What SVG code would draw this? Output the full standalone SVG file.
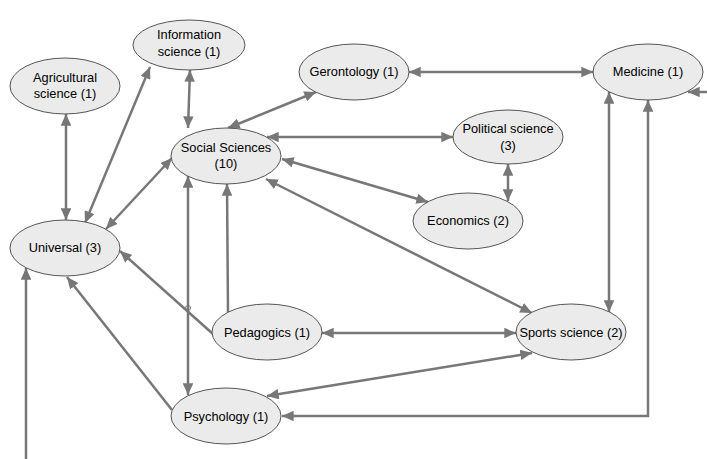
<svg xmlns="http://www.w3.org/2000/svg" width="707" height="459" viewBox="0 0 707 459">
<style>
.n ellipse{fill:#ebebeb;stroke:#555;stroke-width:1}
.n text{font-family:"Liberation Sans",Arial,sans-serif;font-size:12.8px;fill:#000;text-anchor:middle}
.c line,.c polyline{stroke:#777;stroke-width:2.5;fill:none}
.b{marker-start:url(#a);marker-end:url(#a)}
.e{marker-end:url(#a)}
</style>
<defs>
<marker id="a" viewBox="0 0 10 9" refX="10" refY="4.5" markerWidth="12" markerHeight="10.5" markerUnits="userSpaceOnUse" orient="auto-start-reverse">
<path d="M0,0 L10,4.5 L0,9 z" fill="#777"/>
</marker>
</defs>
<rect width="707" height="459" fill="#fff"/>
<g id="connectors" class="c">
<line class="b" x1="66" y1="114" x2="66" y2="220"/>
<line class="b" x1="190" y1="70" x2="188" y2="128"/>
<line class="b" x1="85" y1="223" x2="150" y2="67"/>
<line class="b" x1="106" y1="229" x2="172" y2="158"/>
<line class="b" x1="228" y1="128" x2="316" y2="92"/>
<line class="b" x1="409" y1="72" x2="593" y2="72"/>
<line class="b" x1="267" y1="137" x2="453" y2="137"/>
<line class="b" x1="282" y1="159" x2="428" y2="202"/>
<line class="b" x1="266" y1="179" x2="532" y2="313"/>
<line class="b" x1="508" y1="164" x2="508" y2="201"/>
<line class="b" x1="609" y1="92" x2="609" y2="312"/>
<polyline class="b" points="282,416 648,416 648,100"/>
<line class="b" x1="322" y1="333" x2="516" y2="333"/>
<line class="e" x1="228" y1="312" x2="227" y2="184"/>
<line class="e" x1="213" y1="334" x2="120" y2="251"/>
<line class="b" x1="188" y1="176" x2="188" y2="395"/>
<line class="e" x1="172" y1="410" x2="67" y2="277"/>
<line class="b" x1="267" y1="396" x2="532" y2="353"/>
<line class="e" x1="26" y1="459" x2="26" y2="268"/>
<line class="e" x1="707" y1="92" x2="688" y2="92"/>
<circle cx="188" cy="308" r="2.5" fill="none" stroke="#777" stroke-width="1"/>
</g>
<g id="agricultural" class="n"><ellipse cx="65" cy="86" rx="55" ry="28"/><text x="65" y="82">Agricultural</text><text x="65" y="98">science (1)</text></g>
<g id="information" class="n"><ellipse cx="189" cy="45" rx="56" ry="25"/><text x="189" y="39">Information</text><text x="189" y="56">science (1)</text></g>
<g id="gerontology" class="n"><ellipse cx="354" cy="72" rx="55" ry="28"/><text x="354" y="76">Gerontology (1)</text></g>
<g id="medicine" class="n"><ellipse cx="648" cy="72" rx="55" ry="28"/><text x="648" y="76">Medicine (1)</text></g>
<g id="social" class="n"><ellipse cx="226" cy="156" rx="55" ry="28"/><text x="226" y="152">Social Sciences</text><text x="226" y="168">(10)</text></g>
<g id="political" class="n"><ellipse cx="508" cy="137" rx="55" ry="27"/><text x="508" y="133">Political science</text><text x="508" y="150">(3)</text></g>
<g id="economics" class="n"><ellipse cx="468" cy="221" rx="55" ry="28"/><text x="468" y="225">Economics (2)</text></g>
<g id="universal" class="n"><ellipse cx="65" cy="248" rx="55" ry="28"/><text x="65" y="252">Universal (3)</text></g>
<g id="pedagogics" class="n"><ellipse cx="267" cy="332" rx="55" ry="28"/><text x="267" y="337">Pedagogics (1)</text></g>
<g id="psychology" class="n"><ellipse cx="226" cy="416" rx="55" ry="28"/><text x="226" y="421">Psychology (1)</text></g>
<g id="sports" class="n"><ellipse cx="571" cy="332" rx="55" ry="28"/><text x="571" y="337">Sports science (2)</text></g>
</svg>
